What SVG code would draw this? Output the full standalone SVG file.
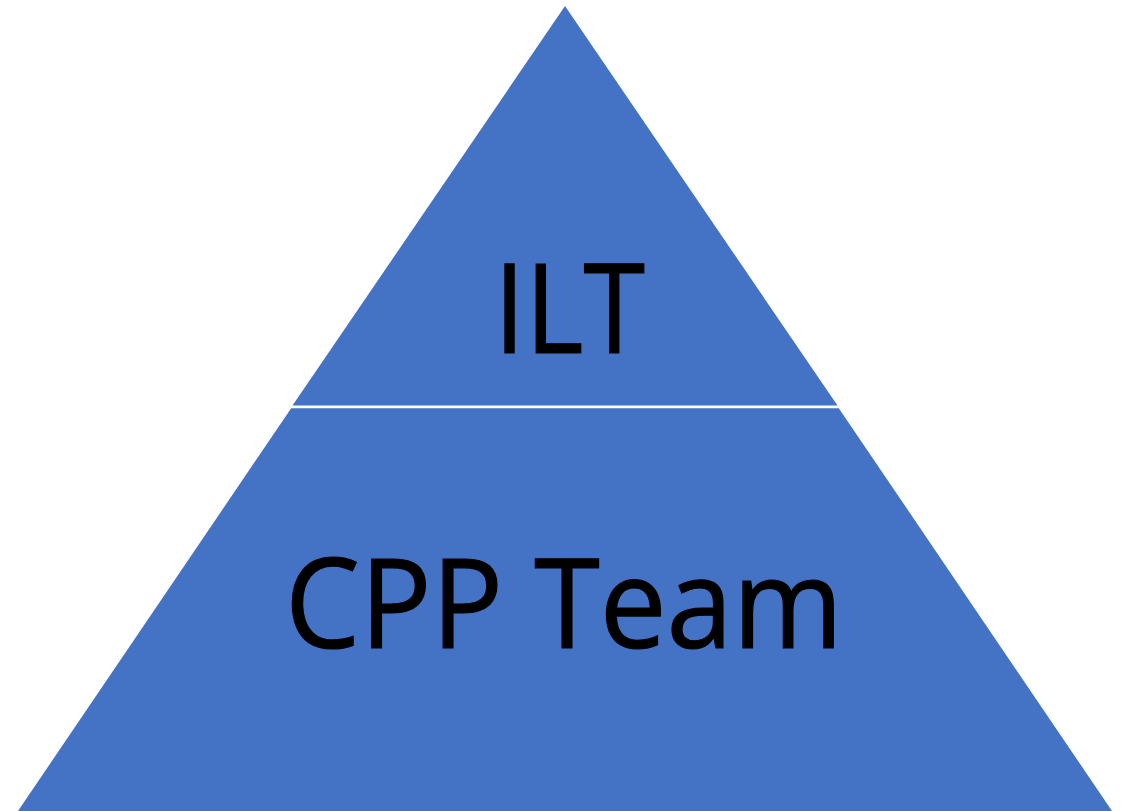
<svg xmlns="http://www.w3.org/2000/svg" width="1122" height="811" viewBox="0 0 1122 811">
<style>
.lvl{fill:#4472C4;}
.lbl{font-family:"Open Sans","Liberation Sans",sans-serif;font-size:124px;fill:#000;stroke:#000;stroke-width:1.2;}
</style>
<rect width="1122" height="811" fill="#fff"/>
<g id="top">
<polygon class="lvl" points="565,6 837.5,405.6 292.5,405.6"/>
<text class="lbl" x="494" y="353" textLength="151" lengthAdjust="spacingAndGlyphs">ILT</text>
</g>
<g id="bottom">
<polygon class="lvl" points="291.2,408.2 838.8,408.2 1112,811 18,811"/>
<text class="lbl" x="285" y="648" textLength="558" lengthAdjust="spacingAndGlyphs">CPP Team</text>
</g>
<g id="connectors"/>
</svg>
